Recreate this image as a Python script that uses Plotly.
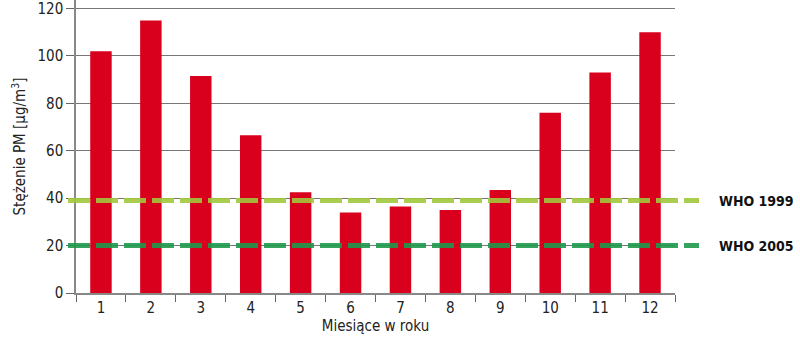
import plotly.graph_objects as go

months = ["1", "2", "3", "4", "5", "6", "7", "8", "9", "10", "11", "12"]
pm_values = [102, 115, 91.5, 66.5, 42.5, 34, 36.5, 35, 43.5, 76, 93, 110]
who_levels = [39, 20]
who_labels = ["WHO 1999", "WHO 2005"]
who_colors = ["#A2C83C", "#1E9A4C"]

FONT = "DejaVu Sans Condensed, Liberation Sans, Arial, sans-serif"

fig = go.Figure()
fig.add_trace(go.Bar(x=months, y=pm_values, marker=dict(color="#D9001E", line=dict(width=0)),
                     width=0.43, showlegend=False))

L, R, T, B = 76, 125, 0, 47
pw = 800 - L - R

for lvl, lab, col in zip(who_levels, who_labels, who_colors):
    fig.add_shape(type="line", xref="paper", yref="y", x0=-8 / pw, x1=(699 - L) / pw,
                  y0=lvl, y1=lvl, line=dict(color=col, width=5, dash="22px,6px"),
                  layer="above", opacity=0.9)
    fig.add_annotation(xref="paper", yref="y", x=(796 - L) / pw, y=lvl, text=f"<b>{lab}</b>",
                       showarrow=False, xanchor="right", yanchor="middle",
                       font=dict(family=FONT, size=14, color="#111"))

fig.update_layout(
    width=800, height=340,
    margin=dict(l=L, r=R, t=T, b=B, autoexpand=False),
    paper_bgcolor="white", plot_bgcolor="white",
    font=dict(family=FONT, size=15, color="#222"),
    bargap=0.57,
)
fig.update_xaxes(type="category", showline=True, linecolor="#888", linewidth=1.5,
                 automargin=False,
                 ticks="outside", tickson="boundaries", ticklen=7, tickcolor="#666",
                 showgrid=False, tickfont=dict(size=15),
                 title=dict(text="Miesiące w roku", standoff=2, font=dict(size=15)))
fig.update_yaxes(range=[0, 123.6], tickvals=[0, 20, 40, 60, 80, 100, 120],
                 ticklabeloverflow="allow", automargin=False,
                 showgrid=True, gridcolor="#777", gridwidth=1,
                 showline=True, linecolor="#888", linewidth=1.5,
                 ticks="outside", ticklen=8, tickcolor="#666", zeroline=False,
                 tickfont=dict(size=15),
                 title=dict(text="Stężenie PM [µg/m<sup>3</sup>]", standoff=8, font=dict(size=15)))

fig.write_html("out.html")
